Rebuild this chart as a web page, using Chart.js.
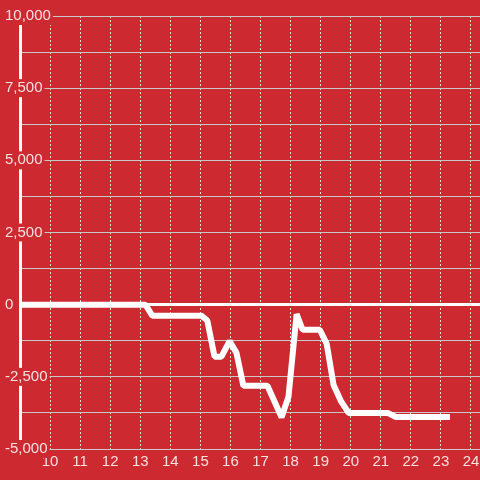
<!DOCTYPE html>
<html>
<head>
<meta charset="utf-8">
<script src="https://cdn.jsdelivr.net/npm/chart.js@4"></script>
<style>
  html, body { margin: 0; padding: 0; background: #cc2a30; }
  #wrap { width: 480px; height: 480px; }
</style>
</head>
<body>
<div id="wrap"><canvas id="chart" width="480" height="480"></canvas></div>
<script>
const fond = '#cc2a30';

// heures (axe x) et valeurs de la courbe
const heures = [9, 13.17, 13.4, 15.03, 15.23, 15.47, 15.7, 15.97, 16.2, 16.43, 17.23, 17.7, 17.93, 18.2, 18.4, 18.97, 19.2, 19.43, 19.67, 19.93, 21.23, 21.5, 23.3];
const valeurs = [0, 0, -380, -380, -550, -1800, -1800, -1260, -1670, -2810, -2810, -3900, -3190, -330, -870, -870, -1350, -2780, -3330, -3750, -3750, -3890, -3890];

// graduations
const xTicks = [10, 11, 12, 13, 14, 15, 16, 17, 18, 19, 20, 21, 22, 23, 24];
const yLabels = [-5000, -2500, 0, 2500, 5000, 7500, 10000];

const points = heures.map((h, i) => ({ x: h, y: valeurs[i] }));

const police = { family: 'Liberation Sans', size: 15 };
const couleurTexte = 'rgba(255,255,255,0.85)';

new Chart(document.getElementById('chart').getContext('2d'), {
  type: 'line',
  data: {
    datasets: [{
      data: points,
      borderColor: '#ffffff',
      borderWidth: 6,
      borderJoinStyle: 'bevel',
      pointRadius: 0,
      tension: 0,
      fill: false
    }]
  },
  options: {
    responsive: false,
    animation: false,
    layout: { padding: { left: 5, right: 0, top: 16, bottom: 5 } },
    plugins: { legend: { display: false }, tooltip: { enabled: false } },
    scales: {
      x: {
        type: 'linear',
        min: 9,
        max: 24.3,
        border: { display: false, dash: [2, 2] },
        grid: { drawTicks: false, color: '#e0e0e0', lineWidth: 1 },
        ticks: {
          stepSize: 1,
          includeBounds: false,
          maxRotation: 0,
          autoSkip: false,
          padding: 4,
          color: couleurTexte,
          font: police,
          callback: v => xTicks.includes(v) ? String(v) : ''
        },
        afterFit: s => { s.paddingLeft = 0; s.paddingRight = 0; }
      },
      y: {
        min: -5000,
        max: 10000,
        border: { display: true, color: '#ffffff', width: 3 },
        grid: {
          drawTicks: false,
          color: ctx => ctx.tick && ctx.tick.value === 0 ? '#ffffff' : '#c8c8c8',
          lineWidth: ctx => ctx.tick && ctx.tick.value === 0 ? 3 : 1
        },
        ticks: {
          stepSize: 1250,
          crossAlign: 'far',
          padding: 0,
          color: couleurTexte,
          font: police,
          showLabelBackdrop: ctx => yLabels.includes(ctx.tick.value),
          backdropColor: fond,
          backdropPadding: { left: 1, right: 2, top: 0, bottom: 0 },
          callback: v => yLabels.includes(v) ? v.toLocaleString('en-US') : ''
        },
        // les libellés chevauchent l'axe : largeur réduite à 15 px, sans découpage
        afterFit: s => {
          s.width = 15;
          s._computeLabelArea = () => null;
        }
      }
    }
  }
});
</script>
</body>
</html>
